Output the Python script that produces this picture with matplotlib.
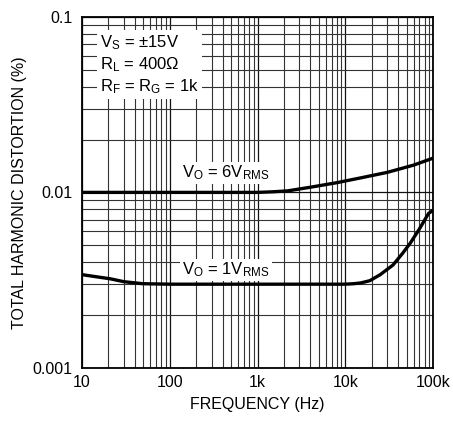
import numpy as np
import matplotlib
matplotlib.use("Agg")
import matplotlib.pyplot as plt
from matplotlib.ticker import FixedLocator, NullFormatter

plt.rcParams['font.family'] = ['Liberation Sans Narrow', 'Liberation Sans', 'DejaVu Sans']
plt.rcParams['mathtext.default'] = 'regular'

# curve data
freq_6v = [10, 100, 600, 1000, 1500, 2200, 4000, 8100, 15000, 30000, 60000, 100000]
thd_6v = [0.0100, 0.0100, 0.0100, 0.0100, 0.01008, 0.0102, 0.0107, 0.01137, 0.0121,
          0.0130, 0.0143, 0.01567]

freq_1v = [10, 15, 21, 30, 49, 100, 1000, 10000, 12500, 15000, 19000, 25000, 35000,
           45000, 55000, 70000, 89000, 100000]
thd_1v = [0.0034, 0.0033, 0.00322, 0.00310, 0.00302, 0.0030, 0.0030, 0.0030, 0.00302,
          0.00305, 0.00314, 0.0034, 0.00386, 0.0045, 0.00514, 0.0062, 0.0076, 0.0079]

x_ticks = [10, 100, 1000, 10000, 100000]
x_labels = ['10', '100', '1k', '10k', '100k']
y_ticks = [0.001, 0.01, 0.1]
y_labels = ['0.001', '0.01', '0.1']

fig = plt.figure(figsize=(4.53, 4.21), dpi=100)
ax = fig.add_axes([0.181, 0.126, 0.775, 0.834])

ax.set_xscale('log')
ax.set_yscale('log')
ax.set_xlim(10, 100000)
ax.set_ylim(0.001, 0.1)

# grid: decade lines and 2..9 subdivisions
x_minor = [m * 10 ** d for d in range(1, 5) for m in range(2, 10)]
y_minor = [m * 10 ** d for d in range(-3, -1) for m in range(2, 10)]
ax.xaxis.set_major_locator(FixedLocator(x_ticks))
ax.yaxis.set_major_locator(FixedLocator(y_ticks))
ax.xaxis.set_minor_locator(FixedLocator(x_minor))
ax.yaxis.set_minor_locator(FixedLocator(y_minor))
ax.xaxis.set_minor_formatter(NullFormatter())
ax.yaxis.set_minor_formatter(NullFormatter())
ax.set_xticklabels(x_labels)
ax.set_yticklabels(y_labels)
ax.grid(which='major', color='#111111', linewidth=0.9)
ax.grid(which='minor', color='#333333', linewidth=0.8)
ax.set_axisbelow(True)
ax.tick_params(which='both', length=0, labelsize=11.5)
ax.tick_params(axis='x', pad=5)
ax.tick_params(axis='y', pad=7)

for s in ax.spines.values():
    s.set_linewidth(1.3)

ax.plot(freq_6v, thd_6v, color='black', linewidth=2.4, solid_capstyle='butt')
ax.plot(freq_1v, thd_1v, color='black', linewidth=2.4, solid_capstyle='butt')

lbl_box = dict(facecolor='white', edgecolor='none', pad=1.5)
ax.text(437, 0.0129, '$V_O$ = 6$V_{RMS}$', fontsize=12, ha='center', va='center', bbox=lbl_box)
ax.text(437, 0.00362, '$V_O$ = 1$V_{RMS}$', fontsize=12, ha='center', va='center', bbox=lbl_box)

note = '$V_S$ = ±15V\n$R_L$ = 400Ω\n$R_F$ = $R_G$ = 1k'
ax.text(16, 0.081, note, fontsize=12, ha='left', va='top', linespacing=1.25,
        bbox=dict(facecolor='white', edgecolor='none', pad=2.0))

ax.set_xlabel('FREQUENCY (Hz)', fontsize=11.5, labelpad=5)
ax.set_ylabel('TOTAL HARMONIC DISTORTION (%)', fontsize=11.5, labelpad=4)

fig.savefig('out.png', dpi=100)
